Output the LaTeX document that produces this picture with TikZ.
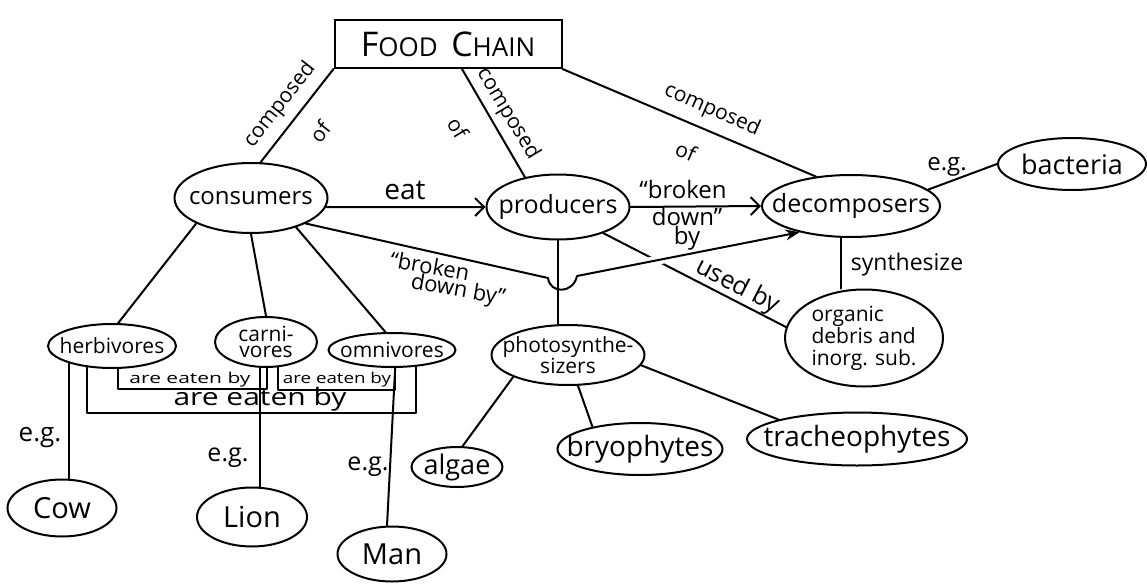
\documentclass[tikz,border=0pt]{standalone}
\usepackage{fontspec}
\usepackage{graphicx}
\setmainfont{Open Sans}
\usetikzlibrary{shapes.geometric,arrows.meta}
\newcommand\myfs[1]{\fontsize{#1}{#1}\selectfont}
\begin{document}
\begin{tikzpicture}[x=1pt,y=-1pt,
  ell/.style 2 args={draw, ellipse, line width=2pt, minimum width=#1, minimum height=#2, inner sep=0pt},
  conn/.style={line width=2pt, line cap=round, line join=round},
  txt/.style={inner sep=1pt, align=center, font=\myfs{#1}},
  barb/.style={-{Straight Barb[length=9pt,width=18pt]}},
  filled/.style={-{Stealth[length=14pt,width=11pt]}}]
\fill[white] (0,0) rectangle (1147,586);
\useasboundingbox (0,0) rectangle (1147,586);

% nodes
\node[draw, line width=2pt, minimum width=227pt, minimum height=48pt, inner sep=0pt] (fc) at (448,44)
  {\myfs{34}F\myfs{26}OOD\ \ \myfs{34}C\myfs{26}HAIN};
\node[ell={153pt}{70pt}, label={[font=\myfs{24}]center:consumers}] (cons) at (251,198) {};
\node[ell={143pt}{65pt}, label={[font=\myfs{25}]center:producers}] (prod) at (558,207) {};
\node[ell={178pt}{62pt}, label={[font=\myfs{25}]center:decomposers}] (dec) at (851,206) {};
\node[ell={148pt}{52pt}, label={[font=\myfs{27}]center:bacteria}] (bac) at (1072,164) {};
\node[ell={128pt}{44pt}, label={[font=\myfs{21}]center:herbivores}] (herb) at (112,346) {};
\node[ell={102pt}{50pt}, label={[font=\fontsize{21}{16}\selectfont,align=center]center:carni-\\vores}] (carn) at (266,342) {};
\node[ell={127pt}{34pt}, label={[font=\myfs{21}]center:omnivores}] (omni) at (392,350) {};
\node[ell={153pt}{60pt}, label={[font=\myfs{21},align=center]center:photosynthe-\\sizers}] (photo) at (568,355) {};
\node[ell={91pt}{40pt}, label={[font=\myfs{27}]center:algae}] (algae) at (457,467) {};
\node[ell={165pt}{52pt}, label={[font=\myfs{28}]center:bryophytes}] (bryo) at (640,449) {};
\node[ell={220pt}{53pt}, label={[font=\myfs{28}]center:tracheophytes}] (trach) at (857,439) {};
\node[ell={158pt}{97pt}, label={[font=\fontsize{21}{22}\selectfont,align=left]center:organic\\debris and\\inorg. sub.}] (org) at (864,338) {};
\node[ell={109pt}{57pt}, label={[font=\myfs{29}]center:Cow}] (cow) at (62,508) {};
\node[ell={110pt}{59pt}, label={[font=\myfs{29}]center:Lion}] (lion) at (252,517) {};
\node[ell={109pt}{55pt}, label={[font=\myfs{29}]center:Man}] (man) at (392,554) {};

\coordinate (h1) at (548,278);
\coordinate (h2) at (577,276);

% connectors
\draw[conn] (fc.south west) -- (cons.75);
\draw[conn] ([xshift=14pt]fc.south) -- (prod.138);
\draw[conn] (fc.south east) -- (dec.140);
\draw[conn,barb] (cons.-7) -- (prod.west);
\draw[conn,barb] (prod.east) -- (dec.west);
\draw[conn] (prod.-30) -- (org.172)
  node[sloped, above, pos=0.7, inner sep=0pt, font=\myfs{25}] (usedby) {used by};
\draw[white, line width=9pt, shorten <=55pt, shorten >=125pt] (h2) -- (dec.-153);
\draw[conn,filled] (cons.-25) -- (h1) .. controls +(2,16) and +(-4,18) .. (h2) -- (dec.-153);
\draw[conn] (prod.south) -- (prod.south |- photo.north);
\draw[conn] (photo.south west) -- (algae.75);
\draw[conn] (photo.-72) -- (bryo.155);
\draw[conn] (photo.-8) -- (trach.north west);
\draw[conn] (dec.12) -- (bac.west);
\draw[conn] ([xshift=-10pt]dec.south) -- ([xshift=-23pt]org.north);
\draw[conn] (cons.south west) -- (herb.75);
\draw[conn] (cons.south) -- (carn.north);
\draw[conn] (cons.-33) -- (omni.110);
\draw[conn] (herb.-158) -- (herb.-158 |- cow.north);
\draw[conn] (carn.-104) -- (carn.-104 |- lion.north);
\draw[conn] (omni.-80) -- ([xshift=-5pt]man.north);
\draw[conn] (herb.-75) -- ++(0,20) -| (carn.-88);
\draw[conn] (carn.-64) -- ++(0,23) -| (omni.-80);
\draw[conn] (herb.-140) -- ++(0,46) -| (omni.-35);

% labels
\node[txt=21, rotate=52] (cmp1) at (280,105) {composed};
\node[txt=21, rotate=52] (of1) at (320,132) {of};
\node[txt=21, rotate=-59] (cmp2) at (508,114) {composed};
\node[txt=21, rotate=-59] (of2) at (458,128) {of};
\node[txt=21, rotate=-24] (cmp3) at (712,110) {composed};
\node[txt=21, rotate=-24] (of3) at (686,151) {of};
\node[txt=28] (eat) at (405,190) {eat};
\node[txt=24] (brk1) at (683,189) {``broken};
\node[font=\fontsize{24}{19}\selectfont, align=center, inner sep=1pt] (brk2) at (687,229) {down''\\by};
\node[txt=22, rotate=-10] (brk3) at (430,266) {``broken};
\node[txt=22, rotate=-10] (brk4) at (458,291) {down by''};
\node[txt=23] (syn) at (907,265) {synthesize};
\node[txt=24] (eg1) at (947,167) {e.g.};
\node[txt=26] (eg2) at (40,438) {e.g.};
\node[txt=25] (eg3) at (228,458) {e.g.};
\node[txt=25] (eg4) at (368,467) {e.g.};
\node[inner sep=0pt] (ae1) at (190,380) {\scalebox{1.4}[1]{\myfs{15}are eaten by}};
\node[inner sep=0pt] (ae2) at (337,380) {\scalebox{1.25}[1]{\myfs{15}are eaten by}};
\node[inner sep=0pt] (ae3) at (260,399) {\scalebox{1.25}[1]{\myfs{24}are eaten by}};
\end{tikzpicture}
\end{document}
